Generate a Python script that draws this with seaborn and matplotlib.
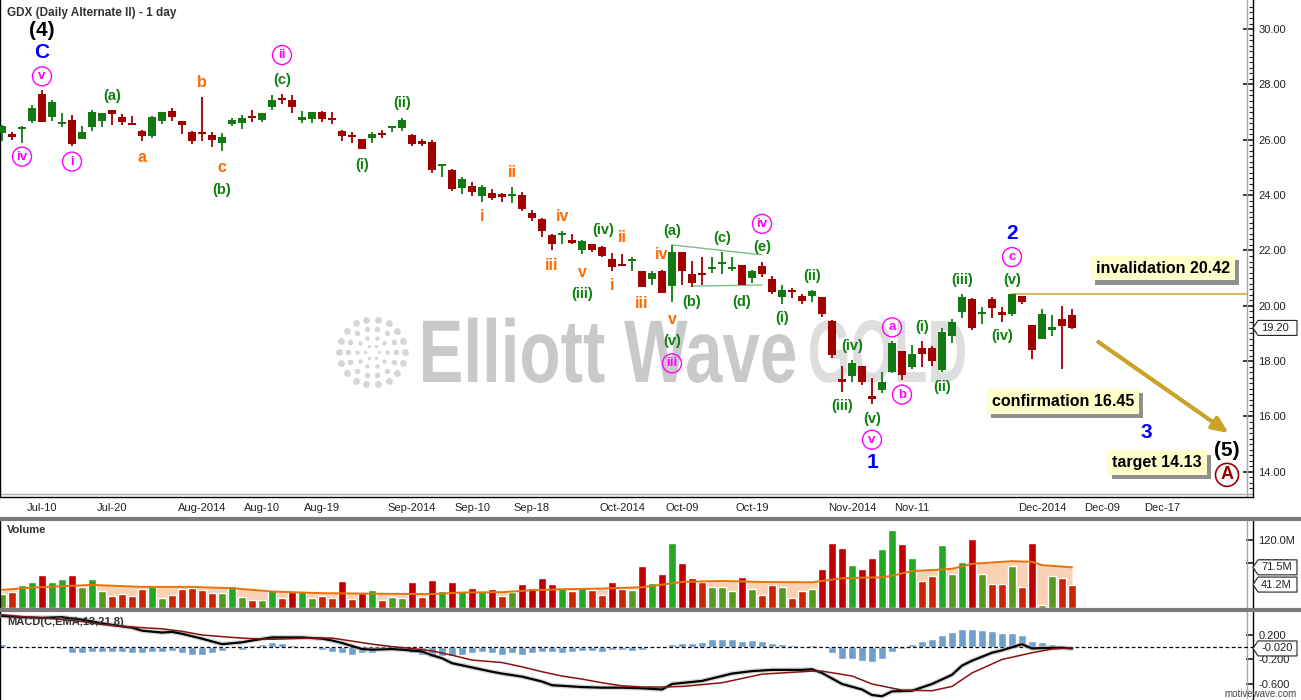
import numpy as np
import matplotlib
matplotlib.use("Agg")
import matplotlib.pyplot as plt
import matplotlib.transforms as mtrans
import matplotlib.patheffects as pe
from matplotlib.patches import Polygon, PathPatch
from matplotlib.lines import Line2D
from matplotlib.textpath import TextPath
from matplotlib.font_manager import FontProperties
import seaborn as sns

# daily bars: index 0 = 3 Jul 2014 ... index 107 = 4 Dec 2014
opens = [26.23, 26.21, 26.38, 26.66, 27.64, 26.81, 26.57, 26.72, 26.01, 26.45,
         26.69, 27.09, 26.84, 26.62, 26.33, 26.12, 26.67, 27.04, 26.69, 26.27,
         26.27, 26.18, 25.90, 26.56, 26.59, 26.84, 26.70, 27.18, 27.48, 27.42,
         26.70, 26.74, 27.00, 26.75, 26.33, 26.16, 26.04, 26.05, 26.23, 26.46,
         26.41, 26.18, 25.94, 25.93, 25.08, 24.91, 24.27, 24.33, 23.98, 24.07,
         24.04, 23.96, 24.02, 23.37, 23.12, 22.55, 22.59, 22.39, 22.02, 22.22,
         22.13, 21.70, 21.48, 21.64, 21.26, 20.96, 21.24, 20.70, 21.93, 21.15,
         21.18, 21.33, 21.52, 21.34, 21.46, 20.99, 21.45, 20.98, 20.30, 20.53,
         20.36, 20.34, 20.33, 19.45, 17.35, 17.48, 17.82, 16.73, 16.96, 17.60,
         18.36, 17.78, 18.47, 18.47, 17.68, 18.90, 19.76, 20.24, 19.70, 20.24,
         19.78, 19.69, 20.35, 19.32, 18.81, 19.12, 19.51, 19.67]
highs = [26.55, 26.29, 26.50, 27.27, 27.81, 27.42, 26.96, 26.91, 26.50, 27.09,
         26.98, 27.09, 26.93, 26.87, 26.36, 26.87, 27.01, 27.16, 26.69, 26.33,
         27.56, 26.29, 26.26, 26.79, 26.91, 27.08, 26.98, 27.60, 27.66, 27.60,
         27.05, 27.00, 27.05, 27.02, 26.35, 26.27, 26.04, 26.27, 26.35, 26.51,
         26.78, 26.22, 26.04, 26.00, 25.12, 24.95, 24.65, 24.47, 24.36, 24.22,
         24.07, 24.29, 24.10, 23.45, 23.16, 22.58, 22.69, 22.59, 22.38, 22.24,
         22.17, 21.90, 21.86, 21.75, 21.26, 21.26, 21.29, 22.18, 21.96, 21.62,
         21.75, 21.76, 21.95, 21.77, 21.46, 21.29, 21.60, 21.08, 20.75, 20.65,
         20.42, 20.57, 20.33, 19.50, 17.82, 18.05, 17.84, 17.38, 17.60, 18.74,
         18.36, 18.57, 18.74, 18.55, 19.20, 19.51, 20.41, 20.29, 19.94, 20.33,
         19.96, 20.42, 20.35, 19.32, 19.88, 19.66, 20.00, 19.88]
lows = [25.96, 26.00, 25.90, 26.59, 26.63, 26.69, 26.45, 25.76, 26.01, 26.33,
        26.45, 26.53, 26.53, 26.53, 25.94, 26.06, 26.57, 26.67, 26.21, 25.84,
        25.95, 25.72, 25.60, 26.50, 26.38, 26.63, 26.63, 27.07, 27.29, 26.96,
        26.59, 26.59, 26.63, 26.56, 25.94, 25.87, 25.65, 25.90, 26.08, 26.27,
        26.30, 25.76, 25.76, 24.81, 24.67, 24.15, 24.05, 23.98, 23.76, 23.81,
        23.76, 23.70, 23.41, 23.07, 22.49, 22.01, 22.23, 22.23, 21.87, 21.96,
        21.77, 21.27, 21.44, 21.26, 20.67, 20.75, 20.46, 20.12, 20.75, 20.68,
        20.75, 21.20, 21.15, 21.24, 20.75, 20.81, 21.03, 20.41, 20.05, 20.27,
        20.08, 20.12, 19.58, 18.13, 16.88, 17.26, 17.14, 16.45, 16.85, 17.56,
        17.32, 17.72, 17.78, 17.84, 17.60, 18.67, 19.56, 19.12, 19.35, 19.56,
        19.42, 19.64, 20.05, 18.08, 18.81, 18.91, 17.72, 19.15]
closes = [26.51, 26.09, 26.46, 27.16, 26.63, 27.35, 26.62, 25.84, 26.29, 27.02,
          26.98, 26.92, 26.63, 26.53, 26.12, 26.84, 27.01, 26.81, 26.53, 25.95,
          26.24, 25.99, 26.10, 26.72, 26.79, 26.81, 26.98, 27.45, 27.44, 27.18,
          26.84, 27.00, 26.74, 26.72, 26.12, 26.13, 25.65, 26.22, 26.16, 26.49,
          26.73, 25.83, 25.84, 24.92, 25.10, 24.23, 24.58, 24.12, 24.29, 23.90,
          23.94, 24.02, 23.48, 23.19, 22.70, 22.24, 22.62, 22.27, 22.35, 22.01,
          21.81, 21.39, 21.44, 21.67, 20.67, 21.19, 20.46, 21.95, 21.26, 20.81,
          21.14, 21.39, 21.55, 21.37, 20.75, 21.25, 21.14, 20.49, 20.57, 20.51,
          20.16, 20.55, 19.69, 18.22, 17.26, 17.93, 17.24, 16.64, 17.24, 18.65,
          17.50, 18.25, 18.27, 17.99, 19.05, 19.42, 20.33, 19.18, 19.75, 19.91,
          19.66, 20.42, 20.15, 18.41, 19.72, 19.24, 19.27, 19.20]
volume_m = [24.9, 28.4, 40.6, 45.8, 58.0, 45.8, 51.0, 58.0, 37.1, 51.0,
            30.2, 21.5, 24.9, 21.5, 33.6, 38.9, 18.0, 23.2, 33.6, 35.4,
            31.9, 26.7, 26.7, 38.9, 19.7, 14.5, 14.5, 31.9, 18.0, 28.4,
            30.2, 18.0, 21.5, 18.0, 47.6, 16.2, 26.7, 31.9, 14.5, 19.7,
            18.0, 45.8, 19.7, 49.3, 30.2, 45.8, 30.2, 35.4, 30.2, 33.6,
            21.5, 28.4, 42.3, 35.4, 52.8, 42.3, 35.0, 30.7, 37.1, 32.5,
            23.2, 46.4, 34.2, 32.5, 73.7, 44.1, 59.7, 113.7, 78.9, 52.8,
            45.8, 37.1, 37.1, 30.2, 54.5, 33.6, 23.2, 40.6, 37.1, 18.0,
            30.2, 33.6, 68.4, 113.7, 105.0, 75.4, 68.4, 87.6, 103.2, 136.3,
            112.0, 87.6, 47.6, 56.3, 110.2, 59.7, 80.6, 120.6, 59.7, 42.3,
            42.3, 73.7, 37.1, 113.7, 5.8, 56.3, 52.8, 41.2]

# volume moving average, read at these bars
vol_ma_idx = [0, 3, 9, 14, 19, 23, 27, 32, 35, 43, 46, 50, 53, 56, 60, 64, 68, 72,
              76, 81, 82, 84, 86, 88, 89, 91, 93, 95, 97, 100, 101, 103, 104, 107]
vol_ma = [31.9, 36.0, 40.6, 37.1, 37.1, 34.8, 29.0, 26.1, 25.5, 24.4, 27.3, 27.8,
          31.3, 33.0, 34.2, 36.5, 45.8, 47.6, 45.8, 45.2, 47.6, 52.2, 53.4, 53.9,
          56.8, 65.0, 66.7, 69.0, 77.7, 81.2, 82.4, 81.2, 75.4, 71.5]

# MACD(13,21,8) lines, read at these bars
macd_idx = [0, 2, 4, 6, 8, 10, 12, 13, 14, 16, 17, 18, 20, 22, 24, 25, 27, 29, 30,
            32, 33, 34, 35, 36, 37, 39, 40, 42, 43, 44, 45, 47, 49, 50, 52, 54, 55,
            58, 60, 62, 64, 66, 67, 70, 73, 75, 77, 80, 81, 82, 84, 86, 87, 88, 89,
            91, 93, 95, 96, 97, 99, 100, 102, 103, 105, 106, 107]
macd_line = [0.51, 0.49, 0.48, 0.49, 0.45, 0.39, 0.34, 0.32, 0.27, 0.24, 0.25, 0.22,
             0.14, 0.05, 0.08, 0.11, 0.16, 0.16, 0.16, 0.14, 0.11, 0.07, 0.02, -0.03,
             -0.04, -0.03, -0.04, -0.07, -0.13, -0.18, -0.26, -0.33, -0.40, -0.43,
             -0.48, -0.56, -0.62, -0.65, -0.66, -0.66, -0.67, -0.69, -0.60, -0.55,
             -0.43, -0.39, -0.37, -0.37, -0.36, -0.42, -0.60, -0.69, -0.78, -0.80,
             -0.72, -0.71, -0.60, -0.45, -0.30, -0.22, -0.09, -0.05, 0.05, -0.02,
             -0.01, -0.01, -0.02]
signal_idx = [0, 2, 4, 6, 8, 10, 12, 14, 16, 18, 20, 23, 25, 27, 29, 31, 33, 35, 37,
              39, 41, 43, 45, 47, 50, 52, 54, 56, 58, 60, 62, 64, 66, 68, 72, 76, 81,
              82, 85, 87, 90, 93, 95, 97, 100, 103, 105, 107]
signal_line = [0.53, 0.50, 0.48, 0.45, 0.42, 0.37, 0.34, 0.32, 0.30, 0.26, 0.20, 0.16,
               0.14, 0.13, 0.14, 0.15, 0.15, 0.10, 0.05, 0.01, -0.02, -0.06, -0.13,
               -0.21, -0.25, -0.32, -0.40, -0.47, -0.52, -0.58, -0.63, -0.65, -0.65,
               -0.64, -0.58, -0.44, -0.39, -0.39, -0.47, -0.60, -0.70, -0.71, -0.64,
               -0.42, -0.20, -0.09, -0.03, -0.01]
macd_hist = [0.05, 0.0, 0.016, 0.0, 0.016, -0.01, -0.03, -0.10, -0.10, -0.08,
             -0.07, -0.07, -0.07, -0.10, -0.10, -0.07, -0.07, -0.06, -0.10, -0.12,
             -0.12, -0.09, -0.06, -0.02, -0.04, 0.03, 0.06, 0.08, 0.07, 0.03,
             0.01, -0.01, -0.04, -0.07, -0.10, -0.13, -0.10, -0.09, -0.02, -0.02,
             -0.04, -0.10, -0.13, -0.16, -0.15, -0.15, -0.13, -0.10, -0.07, -0.10,
             -0.13, -0.10, -0.12, -0.10, -0.07, -0.07, -0.10, -0.07, -0.06, -0.06,
             -0.07, -0.05, -0.04, -0.06, -0.04, -0.02, -0.02, 0.05, 0.07, 0.07,
             0.09, 0.13, 0.14, 0.14, 0.10, 0.12, 0.10, 0.07, 0.05, 0.04,
             0.02, 0.04, 0.0, -0.09, -0.19, -0.19, -0.22, -0.24, -0.20, -0.07,
             -0.03, 0.05, 0.10, 0.14, 0.20, 0.25, 0.30, 0.29, 0.28, 0.27,
             0.24, 0.24, 0.20, 0.10, 0.09, 0.05, 0.03, 0.01]

date_ticks = [4, 11, 20, 26, 32, 41, 47, 53, 62, 68, 75, 85, 91, 104, 110, 116]
date_labels = ["Jul-10", "Jul-20", "Aug-2014", "Aug-10", "Aug-19", "Sep-2014", "Sep-10",
               "Sep-18", "Oct-2014", "Oct-09", "Oct-19", "Nov-2014", "Nov-11", "Dec-2014",
               "Dec-09", "Dec-17"]

# wave labels: (text, bar, price)
green_labels = [("(a)", 11, 27.57), ("(b)", 22, 24.19), ("(c)", 28, 28.15), ("(i)", 36, 25.07),
                ("(ii)", 40, 27.31), ("(iii)", 58, 20.42), ("(iv)", 60.1, 22.74),
                ("(a)", 67, 22.71), ("(b)", 69, 20.13), ("(c)", 72, 22.45), ("(d)", 74, 20.13),
                ("(e)", 76, 22.13), ("(v)", 67, 18.72), ("(i)", 78, 19.55), ("(ii)", 81, 21.07),
                ("(iii)", 84, 16.39), ("(iv)", 85, 18.53), ("(v)", 87, 15.92), ("(i)", 92, 19.22),
                ("(ii)", 94, 17.05), ("(iii)", 96, 20.93), ("(iv)", 100, 18.90), ("(v)", 101, 20.93)]
orange_labels = [("a", 14, 25.36), ("b", 20, 28.08), ("c", 22, 24.99), ("i", 48, 23.21),
                 ("ii", 51, 24.81), ("iii", 55, 21.47), ("iv", 56.1, 23.21), ("v", 58, 21.22),
                 ("i", 61, 20.75), ("ii", 62, 22.45), ("iii", 64, 20.09), ("iv", 66, 21.87),
                 ("v", 67, 19.51)]
circled_labels = [("v", 4, 28.29), ("iv", 2, 25.39), ("i", 7, 25.21), ("ii", 28, 29.06),
                  ("iii", 67, 17.92), ("iv", 76, 22.96), ("v", 87, 15.16), ("a", 89, 19.22),
                  ("b", 90, 16.79), ("c", 101, 21.76)]
blue_labels = [("C", 4, 29.17), ("1", 87, 14.33), ("2", 101, 22.60), ("3", 114.4, 15.41)]
black_labels = [("(4)", 4, 29.96), ("(5)", 122.5, 14.76)]
circled_a = ("A", 122.5, 13.89)

triangle_upper = ([67, 76], [22.20, 21.84])
triangle_lower = ([69, 76], [20.71, 20.75])
invalidation = 20.42
notes = [("invalidation 20.42", 116.1, 21.36), ("confirmation 16.45", 106.1, 16.54),
         ("target 14.13", 115.5, 14.33)]
target_arrow = ((109.4, 18.75), (122.9, 15.34))

RED, GREEN = "#a00000", "#137a13"
WAVE_GREEN, ORANGE, MAGENTA, BLUE = "#0f7f0f", "#ff6a00", "#ff00ff", "#0000ff"

sns.set_theme(style="white")
plt.rcParams["font.family"] = ["Liberation Sans", "DejaVu Sans"]

W, H = 1301, 700
fig = plt.figure(figsize=(W / 100, H / 100), dpi=100)


def px_rect(left, top, right, bottom):
    return [left / W, 1 - bottom / H, (right - left) / W, (bottom - top) / H]


ax = fig.add_axes(px_rect(0, 0, 1253, 497))
axv = fig.add_axes(px_rect(0, 521, 1253, 608), sharex=ax)
axm = fig.add_axes(px_rect(0, 612, 1253, 699), sharex=ax)

# ---- price candles ----
idx = np.arange(len(closes))
o, h, l, c = (np.array(v) for v in (opens, highs, lows, closes))
up = c >= o
candle_col = np.where(up, GREEN, RED)
ax.vlines(idx, l, h, colors=candle_col, lw=1.3, zorder=3)
body = np.maximum(np.abs(c - o), 0.07)
ax.bar(idx, body, bottom=(o + c) / 2 - body / 2, width=0.8, color=candle_col, lw=0, zorder=3)

# watermark (condensed by squeezing the text outline)
wm_font = FontProperties(family="Liberation Sans", weight="bold")
for word, x0, x1, col in (("Elliott Wave", 423, 795, "#c9c9c9"), ("GOLD", 810, 965, "#dedede")):
    tp = TextPath((0, 0), word, size=100, prop=wm_font)
    ext = tp.get_extents()
    tr = mtrans.Affine2D().translate(-ext.x0, 0).scale((x1 - x0) / ext.width, 64 / 72.0).translate(x0, H - 382)
    ax.add_patch(PathPatch(tp, transform=tr, fc=col, ec="none", zorder=0.5))
cx, cy = 372, H - 352
for r, k, s in ((7, 6, 6), (15, 10, 10), (24, 14, 16), (33, 18, 24)):
    ang = np.linspace(0, 2 * np.pi, k, endpoint=False)
    ax.scatter(cx + r * np.cos(ang), cy + r * np.sin(ang), s=s, color="#d6d6d6",
               transform=mtrans.IdentityTransform(), zorder=0.5, lw=0)

# wave labels
for t, x, y in green_labels:
    ax.text(x, y, t, color=WAVE_GREEN, fontsize=10.5, fontweight="bold", ha="center", va="center", zorder=5)
for t, x, y in orange_labels:
    ax.text(x, y, t, color=ORANGE, fontsize=11.5, fontweight="bold", ha="center", va="center", zorder=5)
for t, x, y in blue_labels:
    ax.text(x, y, t, color=BLUE, fontsize=15, fontweight="bold", ha="center", va="center", zorder=5)
for t, x, y in black_labels:
    ax.text(x, y, t, color="black", fontsize=15, fontweight="bold", ha="center", va="center", zorder=5)
for t, x, y in circled_labels:
    ax.scatter([x], [y], s=(19 * 0.72) ** 2, facecolors="none", edgecolors=MAGENTA, linewidths=1.0, zorder=5)
    ax.text(x, y, t, color=MAGENTA, fontsize=9.5, fontweight="bold", ha="center", va="center", zorder=6)
t, x, y = circled_a
ax.scatter([x], [y], s=(23 * 0.72) ** 2, facecolors="none", edgecolors=RED, linewidths=1.2, zorder=5)
ax.text(x, y, t, color=RED, fontsize=13, fontweight="bold", ha="center", va="center", zorder=6)

ax.plot(*triangle_upper, color="#7fbf7f", lw=1, zorder=2)
ax.plot(*triangle_lower, color="#7fbf7f", lw=1, zorder=2)
ax.plot([101, 124.5], [invalidation, invalidation], color="#d9a441", lw=1.2, zorder=2)
ax.annotate("", xy=target_arrow[1], xytext=target_arrow[0],
            arrowprops=dict(arrowstyle="-|>,head_length=0.8,head_width=0.35", color="#c9a227", lw=3),
            zorder=4)

for text, x, y in notes:
    note = ax.text(x, y, text, ha="center", va="center", fontsize=11.5, fontweight="bold", color="black",
                   bbox=dict(boxstyle="square,pad=0.3", fc="#ffffcc", ec="none"), zorder=7)
    note.get_bbox_patch().set_path_effects([
        pe.SimplePatchShadow(offset=(3, -3), shadow_rgbFace="#8f8f8f", alpha=1.0), pe.Normal()])

# ---- volume ----
ma_at_bar = np.interp(idx, vol_ma_idx, vol_ma)
vol_class = [("up" if u else "dn") + ("_hi" if v > m else "_lo") for u, v, m in zip(up, volume_m, ma_at_bar)]
vol_palette = {"up_hi": "#22a822", "up_lo": "#559a1c", "dn_hi": "#c00000", "dn_lo": "#cc2200"}
axv.fill_between(vol_ma_idx, 0, vol_ma, color="#f8d2b2", lw=0, zorder=0.5)
sns.barplot(x=idx, y=volume_m, hue=vol_class, palette=vol_palette, dodge=False, native_scale=True,
            width=0.85, saturation=1, errorbar=None, legend=False, ax=axv, zorder=1)
sns.lineplot(x=vol_ma_idx, y=vol_ma, color="#e8720c", lw=1.4, ax=axv, zorder=3)

# ---- MACD ----
axm.axhline(0, color="black", lw=0.9, ls=(0, (3, 2)), zorder=2)
sns.barplot(x=idx, y=macd_hist, color="#6f9fcc", saturation=1, native_scale=True, width=0.8,
            errorbar=None, ax=axm, zorder=1)
sns.lineplot(x=macd_idx, y=macd_line, color="#bdbdbd", lw=3.5, alpha=0.6, ax=axm, zorder=3)
sns.lineplot(x=macd_idx, y=macd_line, color="black", lw=1.6, ax=axm, zorder=4)
sns.lineplot(x=signal_idx, y=signal_line, color="#8b1010", lw=1.1, ax=axm, zorder=4)

# ---- axes styling ----
for a in (ax, axv, axm):
    a.set_xlim(-0.2, 125.1)
    a.set_xlabel("")
    a.set_ylabel("")
    a.yaxis.tick_right()
    a.spines["top"].set_visible(False)
    for s in ("left", "right", "bottom"):
        a.spines[s].set_color("black")
        a.spines[s].set_linewidth(1.0)
    a.axvline(124.5, color="#a8a8a8", lw=1, zorder=1)
    a.tick_params(axis="y", which="both", direction="in", colors="#222222", labelsize=8, pad=4,
                  right=True, left=False)

ax.set_ylim(13.09, 31.05)
ax.set_yticks(np.arange(14, 31, 2))
ax.set_yticklabels([f"{v:.2f}" for v in np.arange(14, 31, 2)])
ax.set_yticks(np.arange(13.2, 31.0, 0.2), minor=True)
ax.tick_params(axis="y", which="major", length=7)
ax.tick_params(axis="y", which="minor", length=3, width=0.8)
ax.set_xticks(date_ticks)
ax.set_xticklabels(date_labels)
ax.tick_params(axis="x", direction="in", length=5, labelsize=8, colors="#222222", pad=4)
ax.axhline(13.2, color="#b0b0b0", lw=1, zorder=1)
for a in (axv, axm):
    a.tick_params(axis="x", which="both", bottom=False, labelbottom=False)
    a.spines["bottom"].set_visible(False)

axv.set_ylim(0, 153)
axv.set_yticks([80, 120])
axv.set_yticklabels(["80.0M", "120.0M"])
axv.tick_params(axis="y", length=5)

axm.set_ylim(-0.845, 0.575)
axm.set_yticks([0.2, -0.2, -0.6])
axm.set_yticklabels(["0.200", "-0.200", "-0.600"])
axm.tick_params(axis="y", length=5)


def value_tag(a, yval, text):
    trans = fig.dpi_scale_trans + mtrans.ScaledTranslation(1.0, yval, a.get_yaxis_transform())
    verts = [(0.0, 0.0), (0.05, 0.075), (0.44, 0.075), (0.44, -0.075), (0.05, -0.075)]
    a.add_patch(Polygon(verts, closed=True, transform=trans, fc="white", ec="#222222", lw=0.8,
                        clip_on=False, zorder=8))
    a.text(0.08, 0.0, text, transform=trans, ha="left", va="center", fontsize=8,
           color="#222222", zorder=9, clip_on=False)


value_tag(ax, closes[-1], f"{closes[-1]:.2f}")
value_tag(axv, vol_ma[-1], f"{vol_ma[-1]:.1f}M")
value_tag(axv, volume_m[-1], f"{volume_m[-1]:.1f}M")
value_tag(axm, macd_line[-1], f"{macd_line[-1]:.3f}")

# panel titles and separators
fig.text(7 / W, 1 - 13 / H, "GDX (Daily Alternate II) - 1 day", fontsize=8.5, fontweight="bold",
         color="#333333", va="center")
fig.text(7 / W, 1 - 530 / H, "Volume", fontsize=8, fontweight="bold", color="#333333", va="center")
fig.text(7 / W, 1 - 622 / H, "MACD(C,EMA,13,21,8)", fontsize=8, fontweight="bold", color="#333333",
         va="center", zorder=10)
fig.text(1297 / W, 1 - 694 / H, "motivewave.com", fontsize=7, color="#444444", ha="right", va="center")
for ypx in (519, 610):
    fig.add_artist(Line2D([0, 1], [1 - ypx / H] * 2, transform=fig.transFigure, color="#7a7a7a", lw=3))

fig.savefig("out.png", dpi=100)
